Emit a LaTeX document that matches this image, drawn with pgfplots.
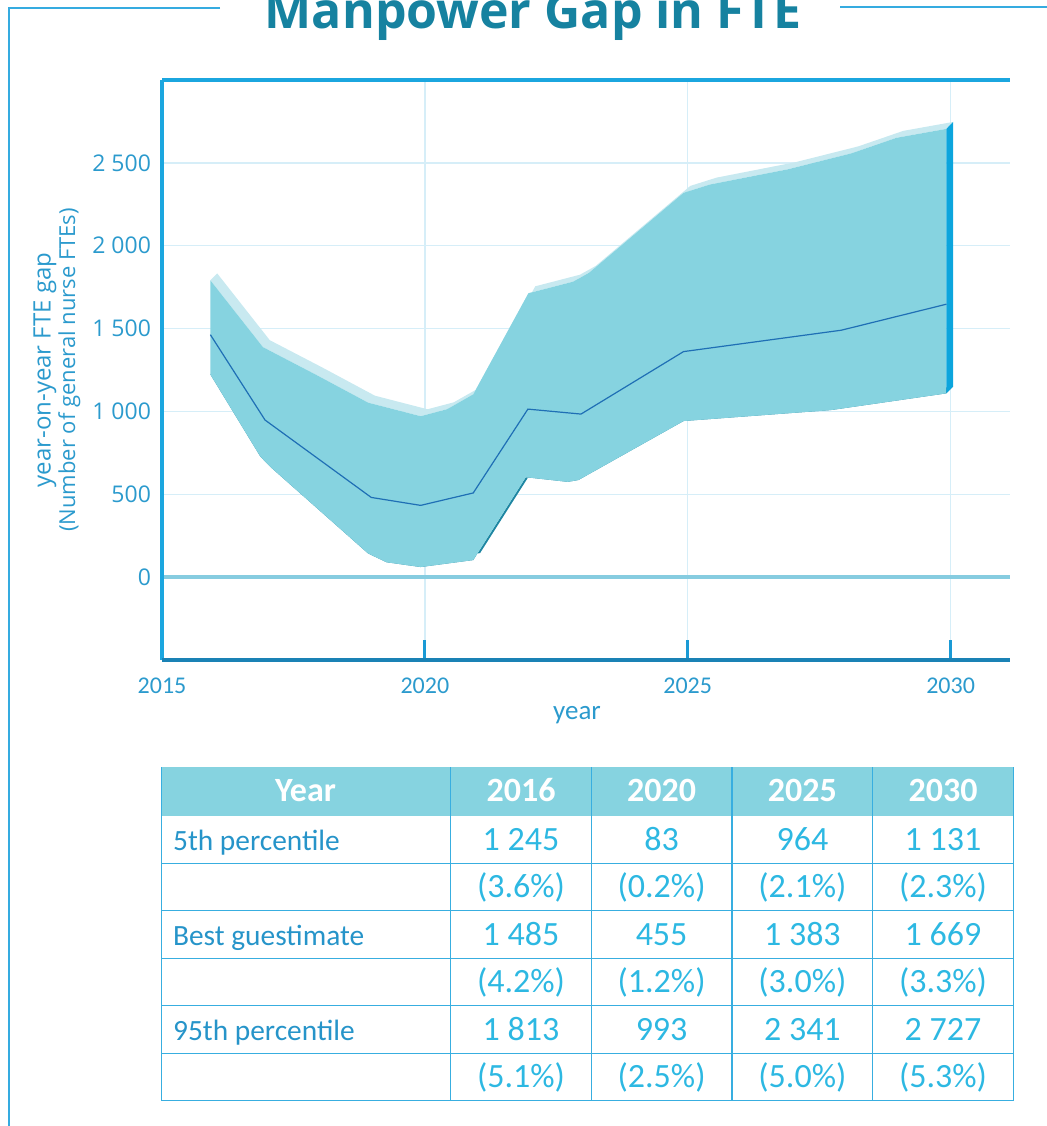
\documentclass[border=0pt]{standalone}
\usepackage{fontspec}
\setmainfont{Carlito}
\newfontfamily\osans{Open Sans}
\usepackage{pgfplots}
\pgfplotsset{compat=1.18}
\usepackage{pgfplotstable}
\usepgfplotslibrary{fillbetween}

\definecolor{framec}{HTML}{35ABE0}
\definecolor{titlec}{HTML}{1682A0}
\definecolor{axisc}{HTML}{1BA6DF}
\definecolor{axisbot}{HTML}{1A82B5}
\definecolor{tickc}{HTML}{1A9AD5}
\definecolor{gridc}{HTML}{D6EEF8}
\definecolor{zeroc}{HTML}{86CCE0}
\definecolor{bandfront}{HTML}{86D3E0}
\definecolor{bandtop}{HTML}{C8E9F0}
\definecolor{bandside}{HTML}{0CA5DD}
\definecolor{bandbottom}{HTML}{1E86A2}
\definecolor{bestc}{HTML}{1F6FB5}
\definecolor{labc}{HTML}{2B9ACD}
\definecolor{tabline}{HTML}{38AEE0}
\definecolor{tabhead}{HTML}{86D3E0}
\definecolor{tabnum}{HTML}{2DB8E2}
\definecolor{tablab}{HTML}{2694C9}

% 95th percentile of the year-on-year gap
\pgfplotstableread{
year value
2016 1813
2017 1410
2018 1245
2019 1075
2020 993
2020.5 1035
2021 1125
2022.05 1735
2022.9 1805
2023.2 1858
2025 2341
2025.5 2391
2027 2484
2028.2 2580
2029.05 2673
2030 2727
}\upperdata

% 5th percentile
\pgfplotstableread{
year value
2016 1245
2016.95 750
2017.15 685
2019.0 165
2019.35 112
2020 83
2021 125
2022 625
2022.8 597
2023.0 608
2025 964
2027.8 1030
2030 1131
}\lowerdata

% best guestimate
\pgfplotstableread{
year value
2016 1485
2017.04 970
2019.06 503
2020 455
2021 530
2022.04 1036
2023.05 1006
2025 1383
2028 1512
2030 1669
}\bestdata

\tikzset{
  tnum/.style={anchor=base, text=tabnum, font=\fontsize{17}{20}\selectfont},
  thead/.style={anchor=base, text=white, font=\bfseries\fontsize{17}{20}\selectfont},
  tlab/.style={anchor=base west, inner xsep=0pt, text=tablab, font=\fontsize{14.7}{17}\selectfont},
}

\begin{document}
\begin{tikzpicture}
% page area
\path (0,0) rectangle (523pt,563pt);

% page frame and title
\draw[overlay, framec, line width=0.75pt] (110pt,559pt) -- (4.5pt,559pt) -- (4.5pt,-1pt);
\draw[overlay, framec, line width=0.75pt] (420pt,559.5pt) -- (524pt,559.5pt);
\node[overlay, anchor=base, text=titlec, font=\osans\bfseries\fontsize{25}{30}\selectfont]
  at (266.5pt,548.85pt) {Manpower Gap in FTE};

\begin{axis}[
  at={(81pt,233pt)}, anchor=south west,
  scale only axis, width=424pt, height=290pt,
  xmin=2015, xmax=2031.13, ymin=-500, ymax=3000,
  clip=false,
  axis line style={draw=none},
  xtick={2015,2020,2025,2030},
  xticklabels={2015,2020,2025,2030},
  ytick={0,500,1000,1500,2000,2500},
  yticklabels={0,500,1 000,1 500,2 000,2 500},
  grid=major,
  major grid style={draw=gridc, line width=0.75pt},
  tick align=inside,
  xtick pos=bottom, ytick pos=left,
  major tick length=10pt,
  xtick style={draw=tickc, line width=1.5pt},
  ytick style={draw=none},
  xticklabel style={font=\fontsize{12}{14}\selectfont, text=labc, anchor=base, yshift=-17pt},
  yticklabel style={font=\osans\fontsize{11.5}{14}\selectfont, text=labc, anchor=east, xshift=-2pt},
]
% zero line
\draw[zeroc, line width=2pt] (axis cs:2015,0) -- (axis cs:2031.13,0);

% front and back outlines of the ribbon
\addplot[draw=none, name path=fu] table[x expr=\thisrow{year}-0.08, y expr=\thisrow{value}-22]{\upperdata};
\addplot[draw=none, name path=fl] table[x expr=\thisrow{year}-0.08, y expr=\thisrow{value}-22]{\lowerdata};
\addplot[draw=none, name path=bu] table[x expr=\thisrow{year}+0.05, y expr=\thisrow{value}+20]{\upperdata};
\addplot[draw=none, name path=bl] table[x expr=\thisrow{year}+0.05, y expr=\thisrow{value}+20]{\lowerdata};

% top, bottom and end faces
\addplot[bandtop, draw=none] fill between[of=fu and bu];
\addplot[bandbottom, draw=none] fill between[of=fl and bl];
\addplot[fill=bandside, draw=none] coordinates {(2029.92,1109) (2030.05,1151) (2030.05,2747) (2029.92,2705)};
% front face
\addplot[bandfront, draw=none] fill between[of=fu and fl];
% best guestimate
\addplot[bestc, line width=0.6pt] table[x expr=\thisrow{year}-0.08, y expr=\thisrow{value}-22]{\bestdata};

% axis lines
\draw[axisc, line width=2pt] (rel axis cs:0,1) -- (rel axis cs:1,1);
\draw[axisc, line width=2pt] (rel axis cs:0,0) -- (rel axis cs:0,1);
\draw[axisbot, line width=2pt] (rel axis cs:0,0) -- (rel axis cs:1,0);
\end{axis}

% axis titles
\node[rotate=90, align=center, text=labc, font=\osans\fontsize{12}{11}\selectfont] at (28.5pt,378pt)
  {year-on-year FTE gap\\{\fontsize{11}{11}\selectfont (Number of general nurse FTEs)}};
\node[anchor=base, text=labc, font=\fontsize{13.5}{16}\selectfont] at (288.5pt,203pt) {year};

% summary table
\fill[tabhead] (80.85pt,155.15pt) rectangle (506.65pt,179.35pt);
\foreach \y in {131.4,107.65,83.9,60.15,36.4,12.65}
  \draw[tabline, line width=0.6pt] (80.85pt,\y pt) -- (506.65pt,\y pt);
\foreach \x in {80.85,225.35,295.65,366,436.35,506.65}
  \draw[tabline, line width=0.6pt] (\x pt,12.65pt) -- (\x pt,179.35pt);

\node[thead] at (152.75pt,162.15pt) {Year};
\node[thead] at (260.5pt,162.15pt) {2016};
\node[thead] at (330.8pt,162.15pt) {2020};
\node[thead] at (401.2pt,162.15pt) {2025};
\node[thead] at (471.5pt,162.15pt) {2030};

\node[tlab] at (86.35pt,137.9pt) {5th percentile};
\node[tlab] at (86.35pt,90.4pt) {Best guestimate};
\node[tlab] at (86.35pt,42.9pt) {95th percentile};

\node[tnum] at (260.5pt,137.9pt) {1 245};
\node[tnum] at (330.8pt,137.9pt) {83};
\node[tnum] at (401.2pt,137.9pt) {964};
\node[tnum] at (471.5pt,137.9pt) {1 131};
\node[tnum] at (260.5pt,114.15pt) {(3.6\%)};
\node[tnum] at (330.8pt,114.15pt) {(0.2\%)};
\node[tnum] at (401.2pt,114.15pt) {(2.1\%)};
\node[tnum] at (471.5pt,114.15pt) {(2.3\%)};

\node[tnum] at (260.5pt,90.4pt) {1 485};
\node[tnum] at (330.8pt,90.4pt) {455};
\node[tnum] at (401.2pt,90.4pt) {1 383};
\node[tnum] at (471.5pt,90.4pt) {1 669};
\node[tnum] at (260.5pt,66.65pt) {(4.2\%)};
\node[tnum] at (330.8pt,66.65pt) {(1.2\%)};
\node[tnum] at (401.2pt,66.65pt) {(3.0\%)};
\node[tnum] at (471.5pt,66.65pt) {(3.3\%)};

\node[tnum] at (260.5pt,42.9pt) {1 813};
\node[tnum] at (330.8pt,42.9pt) {993};
\node[tnum] at (401.2pt,42.9pt) {2 341};
\node[tnum] at (471.5pt,42.9pt) {2 727};
\node[tnum] at (260.5pt,19.15pt) {(5.1\%)};
\node[tnum] at (330.8pt,19.15pt) {(2.5\%)};
\node[tnum] at (401.2pt,19.15pt) {(5.0\%)};
\node[tnum] at (471.5pt,19.15pt) {(5.3\%)};
\end{tikzpicture}
\end{document}
